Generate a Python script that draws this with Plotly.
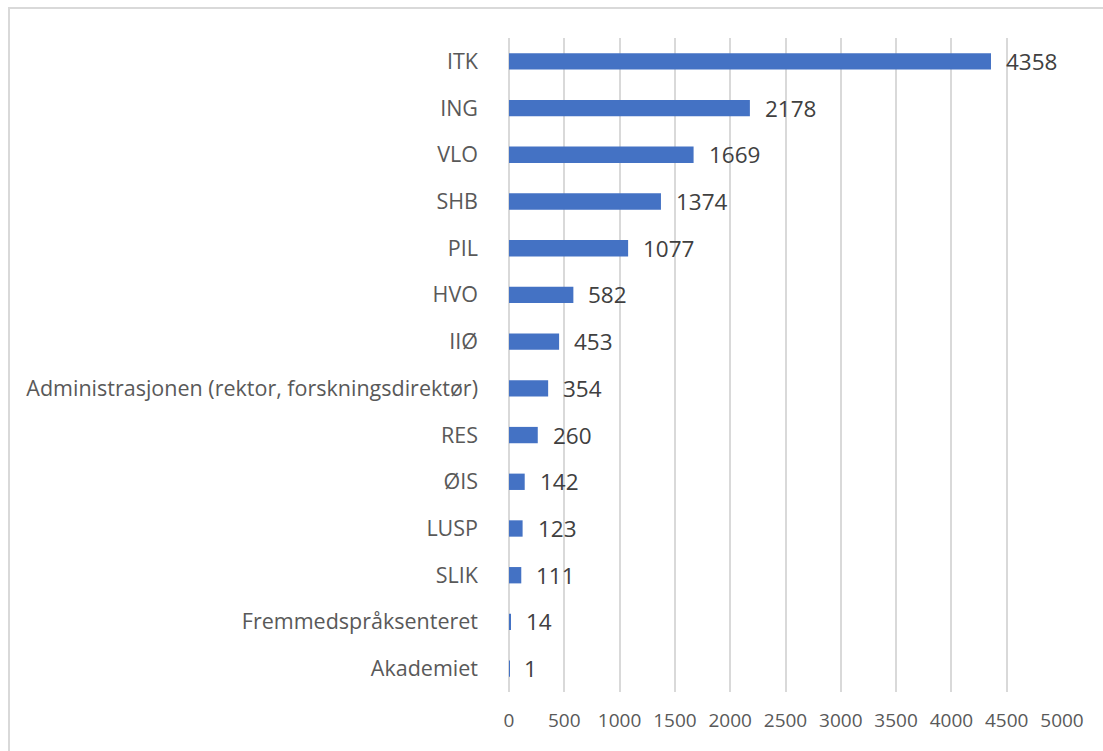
import plotly.graph_objects as go

categories = ["ITK", "ING", "VLO", "SHB", "PIL", "HVO", "IIØ",
              "Administrasjonen (rektor, forskningsdirektør)", "RES", "ØIS",
              "LUSP", "SLIK", "Fremmedspråksenteret", "Akademiet"]
values = [4358, 2178, 1669, 1374, 1077, 582, 453, 354, 260, 142, 123, 111, 14, 1]
tick_vals = list(range(0, 5001, 500))

W, H = 1103, 751
L, R, T, B = 509, 41, 38, 59
pw, ph = W - L - R, H - T - B
FONT = "Open Sans, Lato, sans-serif"

fig = go.Figure(go.Bar(
    x=values, y=categories, orientation="h",
    marker=dict(color="#4472C4", line=dict(width=0)),
    width=0.35,
))

for c, v in zip(categories, values):
    fig.add_annotation(x=v, y=c, text=str(v), showarrow=False,
                       xanchor="left", xshift=13,
                       font=dict(family=FONT, size=22.5, color="#404040"))

# outer chart border (light gray frame)
fig.add_shape(type="rect", xref="paper", yref="paper",
              x0=(9 - L) / pw, x1=(W + 20 - L) / pw,
              y0=-(H + 20 - T - ph) / ph, y1=1 + (T - 8) / ph,
              line=dict(color="#D9D9D9", width=2), fillcolor="rgba(0,0,0,0)", layer="below")

fig.update_layout(
    width=W, height=H,
    margin=dict(l=L, r=R, t=T, b=B),
    paper_bgcolor="white", plot_bgcolor="white",
    showlegend=False,
    font=dict(family=FONT, color="#595959"),
)
fig.update_xaxes(range=[0, 5000], tickvals=tick_vals, ticktext=[str(t) for t in tick_vals],
                 showgrid=True, gridcolor="#D9D9D9", gridwidth=2,
                 zeroline=True, zerolinecolor="#D9D9D9", zerolinewidth=2,
                 showline=False, tickfont=dict(size=19, color="#595959"),
                 ticklabelstandoff=15)
fig.update_yaxes(autorange="reversed", categoryorder="array", categoryarray=categories,
                 showgrid=False, showline=False, ticks="",
                 tickfont=dict(size=21.5, color="#595959"), ticklabelstandoff=30)

fig.write_html("out.html", config={"displayModeBar": False},
               post_script="document.body.style.margin='0';document.body.style.overflow='hidden';")
